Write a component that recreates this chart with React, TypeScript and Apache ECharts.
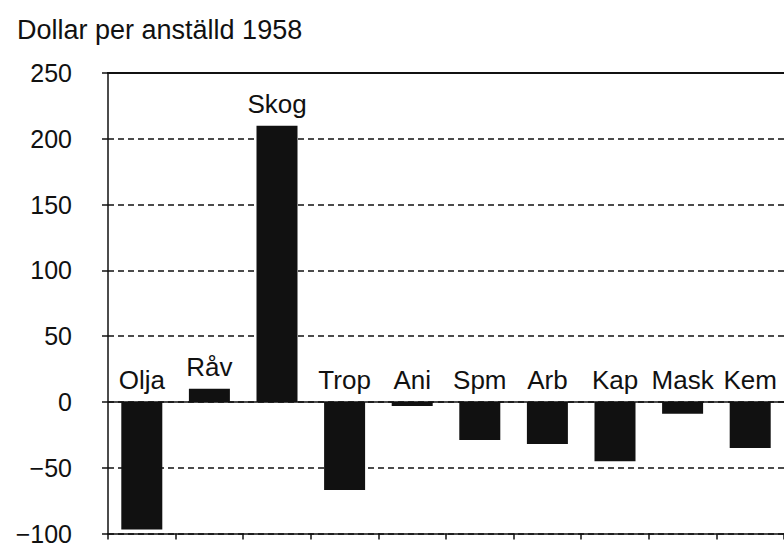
import React, { useEffect, useRef } from "react";
import * as echarts from "echarts";

const categories = ["Olja", "Råv", "Skog", "Trop", "Ani", "Spm", "Arb", "Kap", "Mask", "Kem"];
const values = [-97, 10, 210, -67, -3, -29, -32, -45, -9, -35];
const yTicks = { min: -100, max: 250, interval: 50 };
const titleText = "Dollar per anställd 1958";

const FONT = "Liberation Sans";
const INK = "#111111";

export default function App() {
  const ref = useRef<HTMLDivElement>(null);
  useEffect(() => {
    if (!ref.current) return;
    const chart = echarts.init(ref.current, null, { renderer: "svg" });
    const labelValues = values.map((v) => Math.max(v, 0));
    chart.setOption({
      animation: false,
      backgroundColor: "#ffffff",
      title: {
        text: titleText,
        left: 17,
        top: 16,
        padding: 0,
        textStyle: { fontFamily: FONT, fontSize: 27, fontWeight: "normal", color: INK },
      },
      grid: { left: 108, right: -3, top: 73, height: 467, containLabel: false },
      xAxis: {
        type: "category",
        data: categories,
        position: "bottom",
        axisLine: { onZero: false, lineStyle: { color: INK, width: 1.5 } },
        axisTick: { show: true, length: 6, lineStyle: { color: INK, width: 1.5 } },
        axisLabel: { show: false },
        splitLine: { show: false },
      },
      yAxis: {
        type: "value",
        min: yTicks.min,
        max: yTicks.max,
        interval: yTicks.interval,
        axisLine: { show: true, lineStyle: { color: INK, width: 1.5 } },
        axisTick: { show: true, length: 6, lineStyle: { color: INK, width: 1.5 } },
        axisLabel: {
          margin: 36,
          fontFamily: FONT,
          fontSize: 25,
          color: INK,
          formatter: (v: number) => (v < 0 ? "\u2212" + Math.abs(v) : String(v)),
        },
        splitLine: { show: true, lineStyle: { color: INK, width: 1.5, type: [6, 4] } },
      },
      series: [
        {
          type: "bar",
          data: values,
          barWidth: 41,
          itemStyle: { color: INK },
          markLine: {
            silent: true,
            symbol: "none",
            label: { show: false },
            lineStyle: { color: INK, width: 1.5, type: "solid" },
            data: [{ yAxis: 0 }],
          },
        },
        {
          type: "bar",
          data: labelValues,
          barWidth: 41,
          barGap: "-100%",
          itemStyle: { color: "rgba(0,0,0,0)" },
          silent: true,
          label: {
            show: true,
            position: "top",
            distance: 9,
            fontFamily: FONT,
            fontSize: 26,
            color: INK,
            formatter: (p: any) => p.name,
          },
        },
      ],
    });
    const yTop = chart.convertToPixel({ yAxisIndex: 0 }, yTicks.max) as number;
    const xLeft = chart.convertToPixel({ xAxisIndex: 0 }, categories[0]) as number;
    const catW = (chart.convertToPixel({ xAxisIndex: 0 }, categories[1]) as number) - xLeft;
    chart.setOption({
      graphic: [
        {
          type: "line",
          z: 100,
          silent: true,
          shape: { x1: xLeft - catW / 2 - 1, y1: yTop, x2: 790, y2: yTop },
          style: { stroke: INK, lineWidth: 1.8 },
        },
      ],
    });
    return () => chart.dispose();
  }, []);
  return <div ref={ref} style={{ width: 784, height: 546, position: "absolute", left: 0, top: 0 }} />;
}
